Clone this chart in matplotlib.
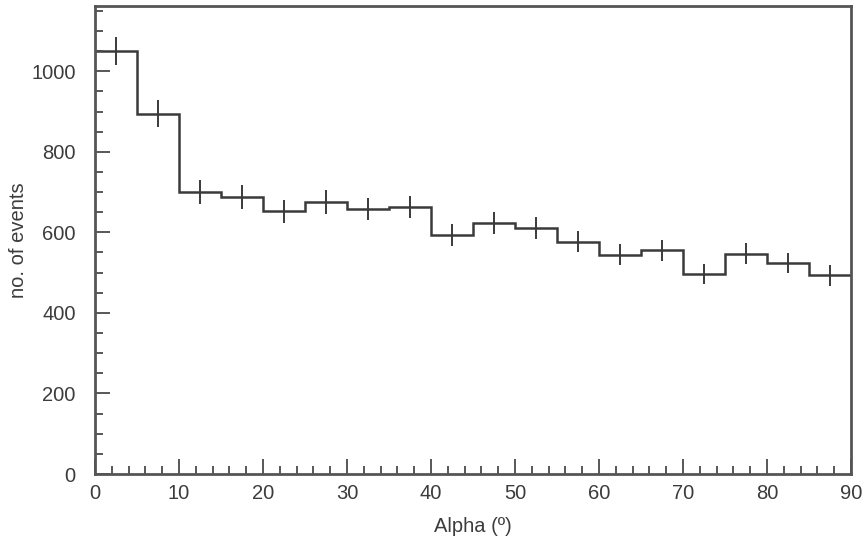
import numpy as np
import matplotlib
matplotlib.use("Agg")
import matplotlib.pyplot as plt
from matplotlib.ticker import MultipleLocator

# Histogram of alpha angle, 5-degree bins
bin_edges = [0, 5, 10, 15, 20, 25, 30, 35, 40, 45, 50, 55, 60, 65, 70, 75, 80, 85, 90]
counts = [1050, 895, 700, 688, 652, 675, 658, 663, 593, 623, 610, 577,
          545, 555, 496, 547, 524, 493]
errors = [35, 33, 29, 29, 28, 29, 28, 28, 27, 27, 27, 26, 26, 26, 25, 26, 25, 25]

plt.rcParams['font.family'] = ['Liberation Sans', 'DejaVu Sans']

fig = plt.figure(figsize=(8.66, 5.4), dpi=100)
ax = fig.add_axes([0.1097, 0.1222, 0.8730, 0.8667])

line_col = '#3a3a3a'
ax.stairs(counts, bin_edges, color=line_col, linewidth=1.8, baseline=None)
centers = [(a + b) / 2 for a, b in zip(bin_edges[:-1], bin_edges[1:])]
ax.errorbar(centers, counts, yerr=errors, fmt='none', ecolor=line_col,
            elinewidth=1.4, capsize=0)

ax.set_xlim(0, 90)
ax.set_ylim(0, 1162)

ax.xaxis.set_major_locator(MultipleLocator(10))
ax.xaxis.set_minor_locator(MultipleLocator(2))
ax.yaxis.set_major_locator(MultipleLocator(200))
ax.yaxis.set_minor_locator(MultipleLocator(50))

txt_col = '#3c3c3c'
ax.tick_params(axis='both', which='both', direction='in', colors='#4a4a4a',
               labelcolor=txt_col, labelsize=14.5, width=1.3)
ax.tick_params(axis='both', which='major', length=11)
ax.tick_params(axis='both', which='minor', length=6)
ax.tick_params(axis='y', which='major', pad=14)
ax.tick_params(axis='x', which='major', pad=7)

for s in ax.spines.values():
    s.set_color('#555555')
    s.set_linewidth(2.0)

ax.set_xlabel('Alpha (º)', fontsize=14.5, color=txt_col, labelpad=10)
ax.set_ylabel('no. of events', fontsize=14.5, color=txt_col, labelpad=2)

fig.savefig('out.png', dpi=100)
